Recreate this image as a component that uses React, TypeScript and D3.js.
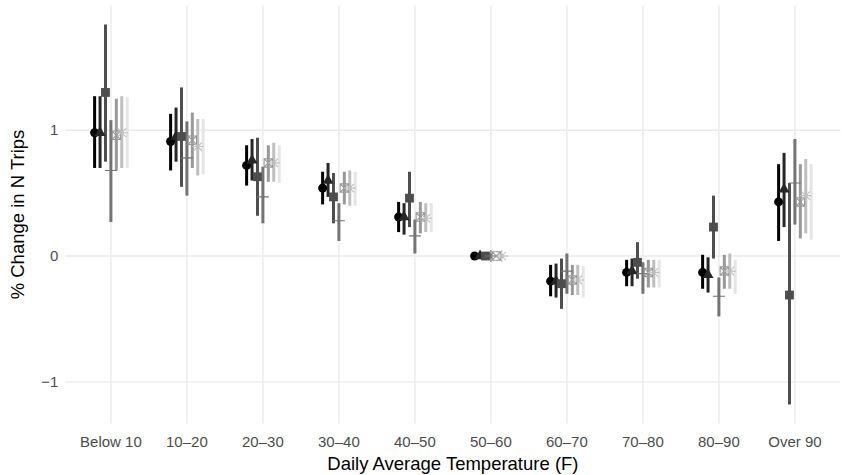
import React from "react";
import * as d3 from "d3";

const categories = ["Below 10", "10–20", "20–30", "30–40", "40–50", "50–60", "60–70", "70–80", "80–90", "Over 90"];
const seriesIds = ["s1", "s2", "s3", "s4", "s5", "s6", "s7"];
const seriesColors = ["#000000", "#262626", "#4d4d4d", "#737373", "#999999", "#bfbfbf", "#e5e5e5"];
const seriesShapes = ["circle", "triangle", "square", "plus", "boxx", "asterisk", "none"];

const estimates = [
  [0.98, 0.91, 0.72, 0.54, 0.31, 0.0, -0.2, -0.13, -0.13, 0.43],
  [0.98, 0.95, 0.76, 0.6, 0.31, 0.0, -0.2, -0.12, -0.15, 0.53],
  [1.3, 0.95, 0.63, 0.47, 0.46, 0.0, -0.22, -0.05, 0.23, -0.31],
  [0.68, 0.78, 0.47, 0.28, 0.16, 0.0, -0.12, -0.14, -0.32, 0.58],
  [0.96, 0.92, 0.74, 0.54, 0.31, 0.0, -0.19, -0.13, -0.12, 0.43],
  [0.98, 0.87, 0.74, 0.54, 0.3, 0.0, -0.19, -0.13, -0.12, 0.48],
  [0.98, 0.87, 0.73, 0.54, 0.3, 0.0, -0.2, -0.13, -0.14, 0.46],
];
const lowers = [
  [0.7, 0.68, 0.56, 0.41, 0.19, -0.01, -0.32, -0.24, -0.26, 0.12],
  [0.7, 0.75, 0.6, 0.47, 0.17, -0.01, -0.33, -0.24, -0.29, 0.23],
  [0.75, 0.55, 0.32, 0.26, 0.23, -0.02, -0.42, -0.18, -0.02, -1.18],
  [0.27, 0.48, 0.26, 0.12, 0.02, -0.02, -0.3, -0.3, -0.48, 0.25],
  [0.68, 0.7, 0.59, 0.41, 0.18, -0.01, -0.31, -0.25, -0.26, 0.14],
  [0.7, 0.64, 0.59, 0.4, 0.19, -0.01, -0.31, -0.25, -0.26, 0.18],
  [0.7, 0.65, 0.58, 0.4, 0.19, -0.01, -0.33, -0.25, -0.3, 0.13],
];
const uppers = [
  [1.27, 1.13, 0.88, 0.67, 0.43, 0.01, -0.07, -0.03, 0.01, 0.73],
  [1.27, 1.18, 0.93, 0.74, 0.42, 0.01, -0.06, -0.02, -0.01, 0.82],
  [1.84, 1.34, 0.94, 0.66, 0.67, 0.02, -0.02, 0.11, 0.48, 0.58],
  [1.08, 1.07, 0.71, 0.42, 0.29, 0.02, 0.02, -0.05, -0.17, 0.93],
  [1.25, 1.14, 0.88, 0.67, 0.43, 0.01, -0.07, -0.03, 0.01, 0.73],
  [1.27, 1.09, 0.9, 0.68, 0.42, 0.01, -0.07, -0.03, 0.02, 0.77],
  [1.26, 1.09, 0.88, 0.67, 0.42, 0.01, -0.08, -0.03, -0.03, 0.73],
];
const yTicks = [-1, 0, 1];
const yTickLabels = ["\u22121", "0", "1"];
const xTitle = "Daily Average Temperature (F)";
const yTitle = "% Change in N Trips";

const W = 846;
const H = 475;
const panel = { left: 65.3, right: 840.5, top: 5.5, bottom: 423.5 };

function Shape({ shape, cx, cy, color }: { shape: string; cx: number; cy: number; color: string }) {
  if (shape === "circle") return <circle cx={cx} cy={cy} r={4.5} fill={color} />;
  if (shape === "square") return <rect x={cx - 4.4} y={cy - 4.4} width={8.8} height={8.8} fill={color} />;
  if (shape === "triangle") {
    const p = d3.path();
    p.moveTo(cx, cy - 6.4);
    p.lineTo(cx + 5.5, cy + 3.2);
    p.lineTo(cx - 5.5, cy + 3.2);
    p.closePath();
    return <path d={p.toString()} fill={color} />;
  }
  if (shape === "plus") {
    const a = 6;
    return (
      <path d={`M${cx - a},${cy}H${cx + a}M${cx},${cy - a}V${cy + a}`} stroke={color} strokeWidth={1.1} fill="none" />
    );
  }
  if (shape === "boxx") {
    const a = 4.2;
    return (
      <path
        d={`M${cx - a},${cy - a}H${cx + a}V${cy + a}H${cx - a}ZM${cx - a},${cy - a}L${cx + a},${cy + a}M${cx - a},${cy + a}L${cx + a},${cy - a}`}
        stroke={color}
        strokeWidth={1.1}
        fill="none"
      />
    );
  }
  if (shape === "asterisk") {
    const a = 4.2;
    const b = 5.9;
    return (
      <path
        d={`M${cx - a},${cy - a}L${cx + a},${cy + a}M${cx - a},${cy + a}L${cx + a},${cy - a}M${cx - b},${cy}H${cx + b}M${cx},${cy - b}V${cy + b}`}
        stroke={color}
        strokeWidth={1.1}
        fill="none"
      />
    );
  }
  return null;
}

export default function App() {
  const x = d3
    .scaleBand<string>()
    .domain(categories)
    .range([panel.left, panel.right])
    .paddingInner(0)
    .paddingOuter(0.1);
  const step = x.step();
  const dodge = d3.scaleBand<string>().domain(seriesIds).range([-0.25 * step, 0.25 * step]);
  const allLo = d3.min(lowers.flat()) as number;
  const allHi = d3.max(uppers.flat()) as number;
  const pad = (allHi - allLo) * 0.05;
  const y = d3.scaleLinear().domain([allLo - pad, allHi + pad]).range([panel.bottom, panel.top]);

  const cx = (ci: number, si: number) =>
    (x(categories[ci]) as number) + step / 2 + (dodge(seriesIds[si]) as number) + dodge.bandwidth() / 2;

  const font = "'Liberation Sans', Arial, Helvetica, sans-serif";

  return (
    <svg width={W} height={H} style={{ display: "block", position: "absolute", left: 0, top: 0 }}>
      <rect x={0} y={0} width={W} height={H} fill="#ffffff" />
      {yTicks.map((t) => (
        <line key={"gy" + t} x1={panel.left} x2={panel.right} y1={y(t)} y2={y(t)} stroke="#ebebeb" strokeWidth={1.4} />
      ))}
      {categories.map((c) => (
        <line
          key={"gx" + c}
          x1={(x(c) as number) + step / 2}
          x2={(x(c) as number) + step / 2}
          y1={panel.top}
          y2={panel.bottom}
          stroke="#ebebeb"
          strokeWidth={1.4}
        />
      ))}
      {seriesIds.map((s, si) =>
        categories.map((c, ci) => (
          <line
            key={"l" + s + c}
            x1={cx(ci, si)}
            x2={cx(ci, si)}
            y1={y(lowers[si][ci])}
            y2={y(uppers[si][ci])}
            stroke={seriesColors[si]}
            strokeWidth={3}
          />
        ))
      )}
      {seriesIds.map((s, si) =>
        categories.map((c, ci) => (
          <Shape key={"p" + s + c} shape={seriesShapes[si]} cx={cx(ci, si)} cy={y(estimates[si][ci])} color={seriesColors[si]} />
        ))
      )}
      {yTicks.map((t, i) => (
        <text
          key={"ty" + t}
          x={panel.left - 7}
          y={y(t)}
          dy="0.35em"
          textAnchor="end"
          fontFamily={font}
          fontSize={15}
          fill="#4d4d4d"
        >
          {yTickLabels[i]}
        </text>
      ))}
      {categories.map((c) => (
        <text
          key={"tx" + c}
          x={(x(c) as number) + step / 2}
          y={panel.bottom + 18}
          dy="0.35em"
          textAnchor="middle"
          fontFamily={font}
          fontSize={15}
          fill="#4d4d4d"
        >
          {c}
        </text>
      ))}
      <text
        x={(panel.left + panel.right) / 2}
        y={panel.bottom + 40}
        dy="0.35em"
        textAnchor="middle"
        fontFamily={font}
        fontSize={18.5}
        fill="#000000"
      >
        {xTitle}
      </text>
      <text
        transform={`translate(${18},${(panel.top + panel.bottom) / 2}) rotate(-90)`}
        dy="0.35em"
        textAnchor="middle"
        fontFamily={font}
        fontSize={18.5}
        fill="#000000"
      >
        {yTitle}
      </text>
    </svg>
  );
}
